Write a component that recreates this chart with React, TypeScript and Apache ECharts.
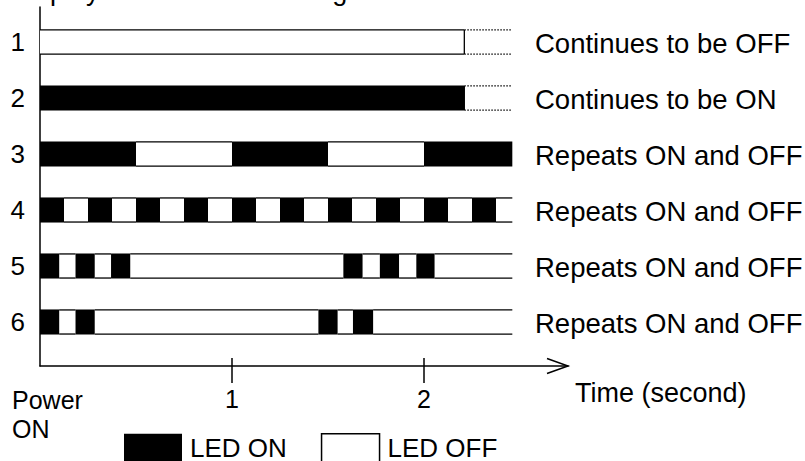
import React, { useEffect, useRef } from 'react';
import * as echarts from 'echarts';

// ---- data ----
const rowLabels = ['1', '2', '3', '4', '5', '6'];
const rowNotes = [
  'Continues to be OFF',
  'Continues to be ON',
  'Repeats ON and OFF',
  'Repeats ON and OFF',
  'Repeats ON and OFF',
  'Repeats ON and OFF',
];
// state of the first segment of each row (true = LED ON)
const rowStartsOn = [false, true, true, true, true, true];
// switching times (seconds) of each row; segments alternate ON/OFF between them
const row1Edges = [0, 2.21];
const row2Edges = [0, 2.21];
const row3Edges = [0, 0.5, 1, 1.5, 2, 2.46];
const row4Edges = [0, 0.125, 0.25, 0.375, 0.5, 0.625, 0.75, 0.875, 1, 1.125, 1.25, 1.375, 1.5, 1.625, 1.75, 1.875, 2, 2.125, 2.25, 2.375, 2.46];
const row5Edges = [0, 0.1, 0.185, 0.285, 0.37, 0.47, 1.58, 1.68, 1.77, 1.87, 1.96, 2.055, 2.46];
const row6Edges = [0, 0.1, 0.185, 0.285, 1.45, 1.55, 1.63, 1.735, 2.46];
// dotted "continues" extension end (seconds), null if none
const rowContinuesTo = [2.46, 2.46, null, null, null, null];
const timeTicks = [1, 2];
const timeLabels = ['1', '2'];
const legendNames = ['LED ON', 'LED OFF'];

const FONT = "'Liberation Sans', Arial, sans-serif";
const X_MIN = 0;
const X_MAX = 2.75;
const Y_MIN = 0.375;
const Y_MAX = 6.786;
const BAR_H = 0.43;
const NOTE_X = 2.578;

const rowEdges = [row1Edges, row2Edges, row3Edges, row4Edges, row5Edges, row6Edges];

function buildSegments() {
  const on: number[][] = [];
  const off: number[][] = [];
  const cont: number[][] = [];
  rowEdges.forEach((edges, i) => {
    let state = rowStartsOn[i];
    for (let k = 0; k < edges.length - 1; k++) {
      (state ? on : off).push([edges[k], edges[k + 1], i + 1]);
      state = !state;
    }
    const c = rowContinuesTo[i];
    if (c != null) cont.push([edges[edges.length - 1], c, i + 1]);
  });
  return { on, off, cont };
}

export default function App() {
  const ref = useRef<HTMLDivElement>(null);
  useEffect(() => {
    if (!ref.current) return;
    const chart = echarts.init(ref.current, undefined, { renderer: 'svg' });
    const { on, off, cont } = buildSegments();
    const LW = 1.3;

    const segEnds = (api: any) => {
      const a = api.coord([api.value(0), api.value(2)]);
      const b = api.coord([api.value(1), api.value(2)]);
      const h = api.size([0, BAR_H])[1];
      return { a, b, h };
    };

    const option: any = {
      animation: false,
      backgroundColor: '#fff',
      textStyle: { fontFamily: FONT },
      grid: {
        left: 40,
        top: 7,
        width: 528,
        height: 359,
        containLabel: false,
        outerBoundsMode: 'none',
      },
      xAxis: {
        type: 'value',
        min: X_MIN,
        max: X_MAX,
        axisLine: { show: true, onZero: false, lineStyle: { color: '#000', width: 1.5 } },
        axisTick: { show: false },
        splitLine: { show: false },
        axisLabel: {
          customValues: timeTicks,
          formatter: (v: number) => timeLabels[timeTicks.indexOf(v)] ?? '',
          fontSize: 25,
          margin: 20,
          color: '#000',
          fontFamily: FONT,
        },
      },
      yAxis: {
        type: 'value',
        min: Y_MIN,
        max: Y_MAX,
        inverse: true,
        axisLine: { show: true, onZero: false, lineStyle: { color: '#000', width: 1.5 } },
        axisTick: { show: false },
        splitLine: { show: false },
        axisLabel: {
          customValues: [1, 2, 3, 4, 5, 6],
          formatter: (v: number) => rowLabels[Math.round(v) - 1] ?? '',
          fontSize: 26,
          margin: 15,
          color: '#000',
          fontFamily: FONT,
        },
      },
      legend: {
        left: 124,
        top: 433,
        padding: 0,
        itemWidth: 58,
        itemHeight: 28,
        itemGap: 34,
        selectedMode: false,
        textStyle: { fontSize: 26, color: '#000', fontFamily: FONT, padding: [0, 0, 0, 3] },
        data: [
          { name: legendNames[0], icon: 'rect', itemStyle: { color: '#000', borderWidth: 0 } },
          { name: legendNames[1], icon: 'rect', itemStyle: { color: '#fff', borderColor: '#000', borderWidth: 1.5 } },
        ],
      },
      graphic: [
        {
          type: 'text',
          x: 11,
          y: -9,
          style: { text: 'Display of the LEDs blinking', fontSize: 27, fontFamily: FONT, fill: '#000', verticalAlign: 'middle' },
        },
        {
          type: 'text',
          x: 12,
          y: 400,
          style: { text: 'Power', fontSize: 25, fontFamily: FONT, fill: '#000', verticalAlign: 'middle' },
        },
        {
          type: 'text',
          x: 12,
          y: 429,
          style: { text: 'ON', fontSize: 25, fontFamily: FONT, fill: '#000', verticalAlign: 'middle' },
        },
        {
          type: 'text',
          x: 575,
          y: 393,
          style: { text: 'Time (second)', fontSize: 27, fontFamily: FONT, fill: '#000', verticalAlign: 'middle' },
        },
      ],
      series: [
        {
          name: legendNames[1],
          type: 'custom',
          itemStyle: { color: '#fff', borderColor: '#000', borderWidth: 1.5 },
          encode: { x: [0, 1], y: 2 },
          data: off,
          renderItem: (_p: any, api: any) => {
            const { a, b, h } = segEnds(api);
            const y0 = a[1] - h / 2;
            const y1 = a[1] + h / 2;
            return {
              type: 'group',
              children: [
                { type: 'rect', shape: { x: a[0], y: y0, width: b[0] - a[0], height: h }, style: { fill: '#fff' } },
                { type: 'line', shape: { x1: a[0], y1: y0, x2: b[0], y2: y0 }, style: { stroke: '#000', lineWidth: LW } },
                { type: 'line', shape: { x1: a[0], y1: y1, x2: b[0], y2: y1 }, style: { stroke: '#000', lineWidth: LW } },
              ],
            };
          },
        },
        {
          name: legendNames[0],
          type: 'custom',
          itemStyle: { color: '#000' },
          encode: { x: [0, 1], y: 2 },
          data: on,
          renderItem: (_p: any, api: any) => {
            const { a, b, h } = segEnds(api);
            return {
              type: 'rect',
              shape: { x: a[0], y: a[1] - h / 2 - 0.5, width: b[0] - a[0], height: h + 1 },
              style: { fill: '#000' },
            };
          },
        },
        {
          name: 'continues',
          type: 'custom',
          encode: { x: [0, 1], y: 2 },
          data: cont,
          renderItem: (_p: any, api: any) => {
            const { a, b, h } = segEnds(api);
            const y0 = a[1] - h / 2;
            const y1 = a[1] + h / 2;
            return {
              type: 'group',
              children: [
                { type: 'line', shape: { x1: a[0], y1: y0, x2: a[0], y2: y1 }, style: { stroke: '#000', lineWidth: LW } },
                { type: 'line', shape: { x1: a[0], y1: y0, x2: b[0], y2: y0 }, style: { stroke: '#000', lineWidth: LW, lineDash: [1.5, 1.5] } },
                { type: 'line', shape: { x1: a[0], y1: y1, x2: b[0], y2: y1 }, style: { stroke: '#000', lineWidth: LW, lineDash: [1.5, 1.5] } },
              ],
            };
          },
        },
        {
          name: 'notes',
          type: 'custom',
          encode: { y: 0 },
          data: rowNotes.map((_t, i) => [i + 1]),
          renderItem: (p: any, api: any) => {
            const c = api.coord([NOTE_X, api.value(0)]);
            return {
              type: 'text',
              x: c[0],
              y: c[1] + 2,
              style: {
                text: rowNotes[p.dataIndex],
                fontSize: 27.5,
                fontFamily: FONT,
                fill: '#000',
                verticalAlign: 'middle',
                align: 'left',
              },
            };
          },
        },
        {
          name: 'ticks',
          type: 'custom',
          encode: { x: 0 },
          data: timeTicks.map((v) => [v]),
          renderItem: (_p: any, api: any) => {
            const c = api.coord([api.value(0), Y_MAX]);
            return {
              type: 'line',
              shape: { x1: c[0], y1: c[1] - 8, x2: c[0], y2: c[1] + 17 },
              style: { stroke: '#000', lineWidth: 1.5 },
            };
          },
        },
        {
          name: 'arrow',
          type: 'custom',
          encode: { x: 0, y: 1 },
          data: [[X_MAX, Y_MAX]],
          renderItem: (_p: any, api: any) => {
            const c = api.coord([api.value(0), api.value(1)]);
            return {
              type: 'polyline',
              shape: { points: [[c[0] - 21, c[1] - 7.5], [c[0], c[1]], [c[0] - 21, c[1] + 7.5]] },
              style: { stroke: '#000', lineWidth: 1.5, fill: 'none' },
            };
          },
        },
      ],
    };
    chart.setOption(option);
    return () => chart.dispose();
  }, []);
  return (
    <div
      ref={ref}
      style={{ position: 'fixed', left: 0, top: 0, width: 805, height: 461, background: '#fff' }}
    />
  );
}
